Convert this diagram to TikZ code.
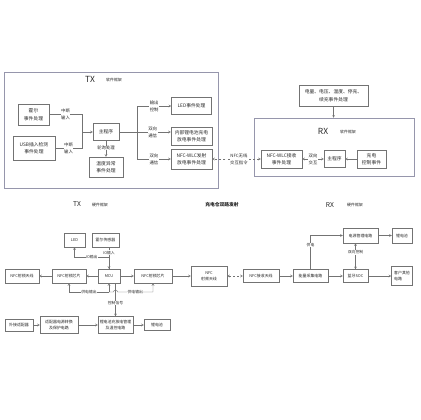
\documentclass[tikz,border=0pt]{standalone}
\usepackage{fontspec}
\setmainfont{Noto Sans CJK SC}
\usetikzlibrary{shapes.geometric, arrows}
\definecolor{lineGray}{RGB}{115,115,115}
\definecolor{frameGray}{RGB}{150,150,172}
\definecolor{textGray}{RGB}{40,40,40}
\tikzstyle{boxSoft} = [rectangle, draw=lineGray, fill=white, align=center, inner sep=1pt, text=textGray, font=\fontsize{6.8}{10.5}\selectfont]
\tikzstyle{boxHard} = [rectangle, draw=lineGray, fill=white, align=center, inner sep=1pt, text=textGray, font=\fontsize{5.6}{9}\selectfont]
\tikzstyle{boxFrame} = [rectangle, draw=frameGray, line width=0.7pt]
\tikzstyle{lblText} = [fill=white, align=center, inner sep=0.6pt, text=textGray, font=\fontsize{6.2}{10}\selectfont]
\tikzstyle{lblHard} = [fill=white, align=center, inner sep=0.6pt, text=textGray, font=\fontsize{5.4}{8}\selectfont]
\tikzstyle{headText} = [text=textGray, font=\fontsize{12}{14}\selectfont]
\tikzstyle{headSmall} = [text=textGray, font=\fontsize{9.5}{11}\selectfont]
\tikzstyle{subText} = [text=textGray, font=\fontsize{5.6}{7}\selectfont]
\tikzstyle{arrow} = [->, >=stealth, draw=lineGray]

\begin{document}
\begin{tikzpicture}[x=0.5mm, y=-0.5mm, line width=0.6pt]
\useasboundingbox (0,0) rectangle (420,420);

% TX software
\node (txsoft) [boxFrame, minimum width=107mm, minimum height=58mm] at (111,130) {};
\node (tx) [headText] at (90,79) {TX};
\node (txsub) [subText] at (114,80) {软件框架};

\node (hall) [boxSoft, minimum width=15.5mm, minimum height=10.5mm] at (33.5,114.5) {霍尔\\事件处理};
\node (usb) [boxSoft, minimum width=21mm, minimum height=12mm] at (34,148) {USB插入检测\\事件处理};
\node (main) [boxSoft, minimum width=13mm, minimum height=8.5mm] at (106,132) {主程序};
\node (temp) [boxSoft, minimum width=17mm, minimum height=10mm] at (106,167) {温度异常\\事件处理};
\node (led) [boxSoft, minimum width=20mm, minimum height=8.5mm] at (191.5,106) {LED事件处理};
\node (batt) [boxSoft, minimum width=20.5mm, minimum height=9mm] at (191.5,136) {内部锂电池充电\\放电事件处理};
\node (nfctx) [boxSoft, minimum width=20.5mm, minimum height=10mm] at (191.5,159) {NFC-WLC发射\\放电事件处理};

\coordinate (join) at (82,132);
\coordinate (bus) at (137,132);
\draw [draw=lineGray] (hall.east) -| node[lblText, pos=0.25] (lblHall) {中断\\输入} (join);
\draw [draw=lineGray] (usb.east) -| node[lblText, pos=0.25] (lblUsb) {中断\\输入} (join);
\draw [arrow] (join) -- (main.west);
\draw [arrow] (main.south) -- node[lblText, pos=0.45] (lblPoll) {轮询处理} (temp.north);
\draw [arrow] (main.east) -- node[lblText, pos=0.65] (lblInner) {双向\\通信} (main.east -| batt.west);
\draw [arrow] (bus) |- node[lblText, pos=0.75] (lblOut) {输出\\控制} (led.west);
\draw [arrow] (bus) |- node[lblText, pos=0.75] (lblComm) {双向\\通信} (nfctx.west);

% RX software
\node (stat) [boxSoft, minimum width=34.5mm, minimum height=10.5mm] at (333.5,95.5) {电量、电压、温度、停充、\\续充事件处理};
\node (rxsoft) [boxFrame, minimum width=80mm, minimum height=29mm] at (334,147) {};
\node (rx) [headText] at (323,131) {RX};
\node (rxsub) [subText] at (348,132) {软件框架};
\draw [arrow] (stat.south) -- (stat.south |- rxsoft.north);

\node (nfcrx) [boxSoft, minimum width=20.5mm, minimum height=9mm] at (281.5,159) {NFC-WLC接收\\事件处理};
\node (rxmain) [boxSoft, minimum width=10.5mm, minimum height=8.5mm] at (334.5,159) {主程序};
\node (chg) [boxSoft, minimum width=14.5mm, minimum height=9mm] at (371.5,159) {充电\\控制事件};
\draw [arrow, <->] (nfcrx.east) -- node[lblText] (lblSwap) {双向\\交互} (rxmain.west);
\draw [arrow] (chg.west) -- (rxmain.east);
\draw [arrow, <->, dashed] (nfcrx.west) -- node[lblText, pos=0.45] (lblWire) {NFC无线\\交互指令} (nfctx.east);

% hardware titles
\node (txhw) [headSmall] at (77,204) {TX};
\node (txhwsub) [subText] at (100,205) {硬件框架};
\node (caseTitle) [text=textGray, font=\fontsize{6.8}{8}\selectfont\bfseries] at (222,205) {充电仓双路发射};
\node (rxhw) [headSmall] at (330,205) {RX};
\node (rxhwsub) [subText] at (355,205) {硬件框架};

% TX hardware
\node (hled) [boxHard, minimum width=10.5mm, minimum height=7mm] at (74.5,240) {LED};
\node (hsens) [boxHard, minimum width=13.5mm, minimum height=7mm] at (105.5,240) {霍尔传感器};
\node (mcu) [boxHard, minimum width=11mm, minimum height=7mm] at (109,276) {MCU};
\node (chipL) [boxHard, minimum width=17mm, minimum height=7mm] at (69,276) {NFC射频芯片};
\node (antL) [boxHard, minimum width=17mm, minimum height=7mm] at (22,276) {NFC射频天线};
\node (chipR) [boxHard, minimum width=19mm, minimum height=7mm] at (153,276) {NFC射频芯片};
\node (antR) [boxHard, minimum width=18mm, minimum height=10mm] at (209,276) {NFC\\射频天线};

\node (adp) [boxHard, minimum width=14mm, minimum height=6mm] at (19,325) {外接适配器};
\node (conv) [boxHard, minimum width=19mm, minimum height=8.5mm] at (59,325) {适配器电源转换\\及保护电路};
\node (mgmt) [boxHard, minimum width=17.5mm, minimum height=8.5mm] at (115.5,325) {锂电池充放电管理\\及温控电路};
\node (cell) [boxHard, minimum width=13mm, minimum height=5.5mm] at (157,325) {锂电池};

\coordinate (ioturn) at (74.5,257);
\coordinate (pwr) at (109,292);
\draw [arrow] (mcu.west) -- (chipL.east);
\draw [arrow] (chipL.west) -- (antL.east);
\draw [arrow] (mcu.east) -- (chipR.west);
\draw [arrow] (chipR.east) -- (antR.west);
\draw [arrow] (hsens.south -| mcu.north) -- node[lblHard, pos=0.25] (lblIn) {IO输入} (mcu.north);
\draw [arrow] (mcu.north) |- node[lblHard, pos=0.75] (lblOutIO) {IO输出} (ioturn) -- (hled.south);
\draw [arrow] (pwr) -- (mcu.south);
\draw [arrow] (pwr) -| node[lblHard, pos=0.25] (lblPwrL) {供电输出} (chipL.south);
\draw [arrow] (pwr) -- ++(4.5,0) arc[start angle=180, end angle=0, radius=1mm] -| node[lblHard, pos=0.25] (lblPwrR) {供电输出} (chipR.south);
\draw [arrow] (mcu.south -| mgmt.north) -- node[lblHard, pos=0.6] (lblCtrl) {控制信号} (mgmt.north);
\draw [arrow] (adp.east) -- (conv.west);
\draw [arrow] (conv.east) -- (mgmt.west);
\draw [arrow] (mgmt.east) -- (cell.west);

% RX hardware
\node (rxant) [boxHard, minimum width=18mm, minimum height=6.5mm] at (261,276) {NFC接收天线};
\node (harv) [boxHard, minimum width=17.5mm, minimum height=6.5mm] at (310.5,276) {能量采集电路};
\node (soc) [boxHard, minimum width=12.5mm, minimum height=6.5mm] at (355.5,276) {蓝牙SOC};
\node (user) [boxHard, align=left, minimum width=10.5mm, minimum height=9.5mm] at (402,276) {客户其他\\电路};
\node (pmu) [boxHard, minimum width=17.5mm, minimum height=7.5mm] at (360.5,235.5) {电源管理电路};
\node (rxcell) [boxHard, minimum width=10mm, minimum height=7.5mm] at (402,235.5) {锂电池};

\draw [arrow, <->, dashed] (antR.east) -- (rxant.west);
\draw [arrow] (rxant.east) -- (harv.west);
\draw [arrow] (harv.east) -- (soc.west);
\draw [arrow] (soc.east) -- (user.west);
\draw [arrow] (harv.north) |- node[lblHard, pos=0.36] (lblSup) {供电} (pmu.west);
\draw [arrow, <->] (soc.north) -- node[lblHard, pos=0.65] (lblBi) {双向控制} (soc.north |- pmu.south);
\draw [arrow] (pmu.east) -- (rxcell.west);

\end{tikzpicture}
\end{document}
